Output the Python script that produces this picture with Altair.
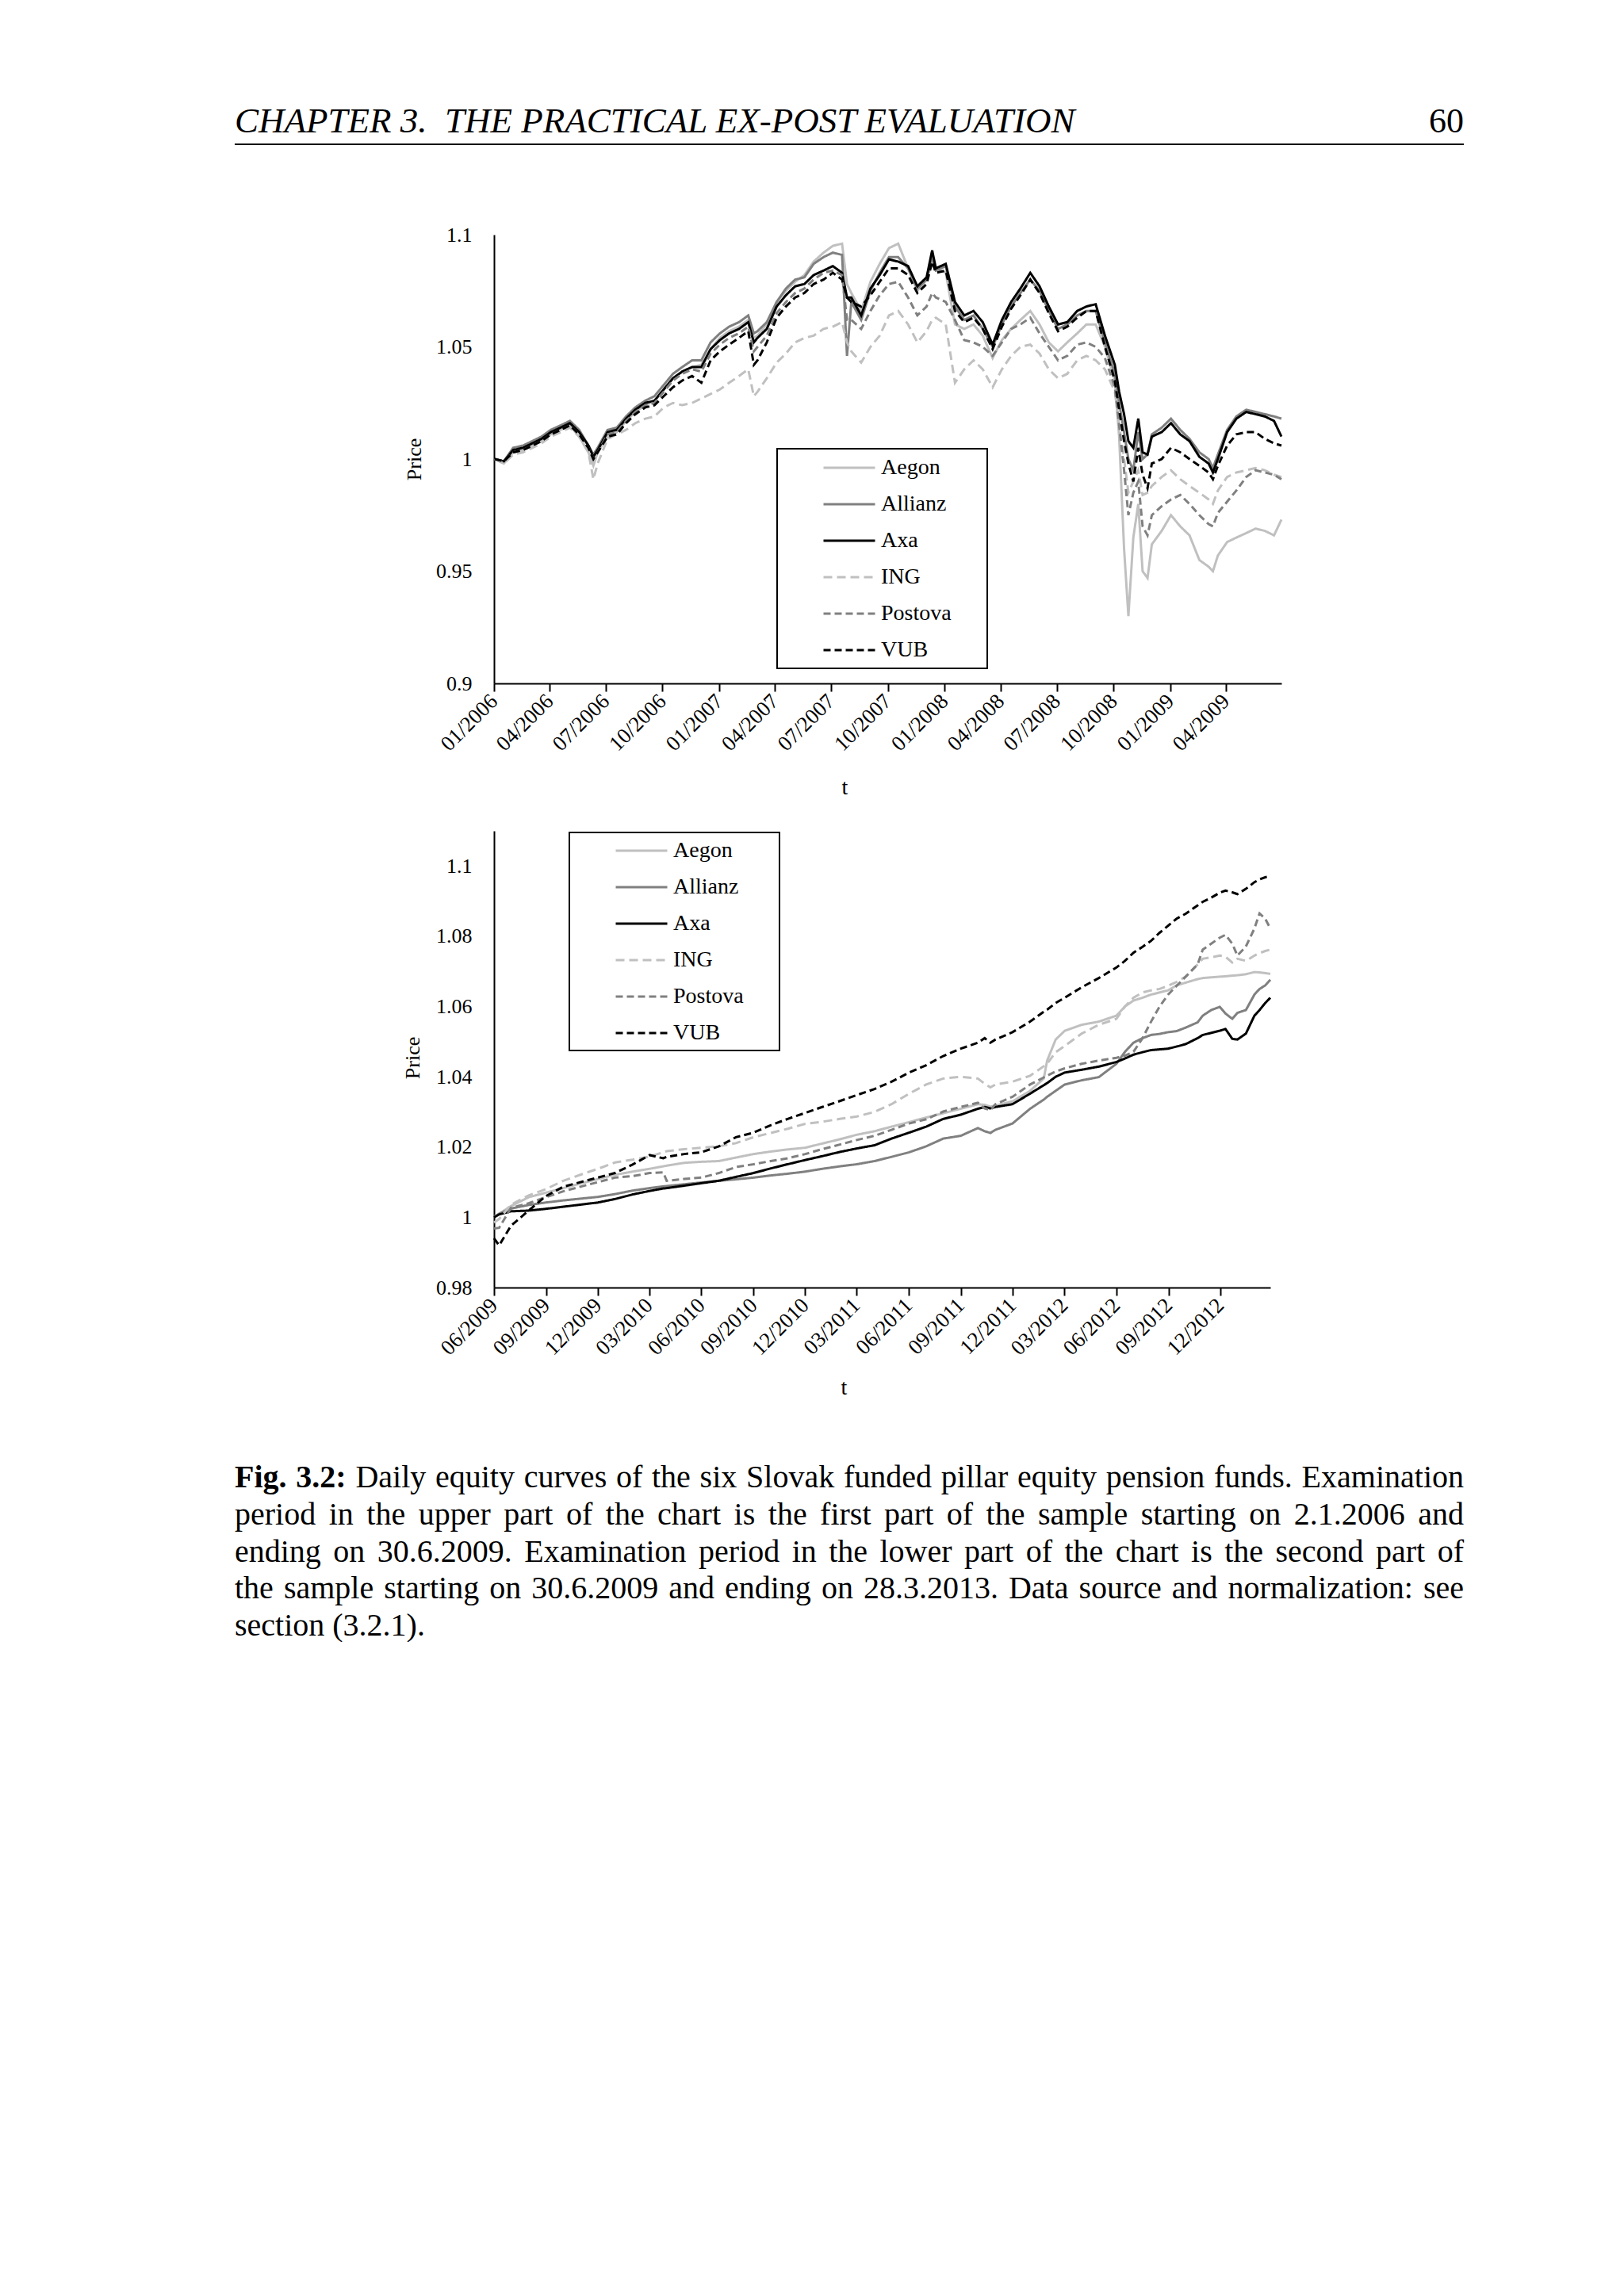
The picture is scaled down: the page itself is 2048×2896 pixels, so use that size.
import datetime as dt
import altair as alt
import pandas as pd

FONT = "Liberation Serif"
FUNDS = ["Aegon", "Allianz", "Axa", "ING", "Postova", "VUB"]
COLORS = ["#c0c0c0", "#808080", "#000000", "#c0c0c0", "#808080", "#000000"]
DASHES = [[1, 0], [1, 0], [1, 0], [11, 6], [9, 5], [9, 5]]

# ---------------- upper chart: months since 2.1.2006 ----------------
TOP_MONTHS = [0, 0.5, 1, 1.5, 2, 2.5, 3, 3.5, 4, 4.5,
              5, 5.25, 5.5, 6, 6.5, 7, 7.5, 8, 8.5, 9,
              9.5, 10, 10.5, 11, 11.5, 12, 12.5, 13, 13.5, 13.8,
              14, 14.5, 15, 15.5, 16, 16.5, 17, 17.5, 18, 18.5,
              18.75, 19, 19.5, 20, 20.5, 21, 21.5, 22, 22.5, 23,
              23.3, 23.5, 24, 24.5, 25, 25.5, 26, 26.5, 27, 27.5,
              28, 28.5, 29, 29.5, 30, 30.5, 31, 31.5, 32, 32.5,
              33, 33.25, 33.5, 33.75, 34, 34.25, 34.5, 34.75, 35, 35.5,
              36, 36.5, 37, 37.5, 38, 38.25, 38.5, 39, 39.5, 40,
              40.5, 41, 41.5, 41.88]

TOP_AEGON = [1.000, 0.998, 1.003, 1.004, 1.006, 1.008, 1.011, 1.013, 1.015, 1.010,
             1.003, 0.997, 1.003, 1.010, 1.012, 1.017, 1.021, 1.024, 1.026, 1.031,
             1.036, 1.039, 1.041, 1.042, 1.049, 1.054, 1.057, 1.059, 1.062, 1.054,
             1.055, 1.060, 1.070, 1.075, 1.079, 1.082, 1.088, 1.092, 1.095, 1.096,
             1.078, 1.074, 1.066, 1.079, 1.087, 1.094, 1.096, 1.085, 1.075, 1.080,
             1.088, 1.085, 1.083, 1.060, 1.058, 1.060, 1.055, 1.045, 1.053, 1.058,
             1.062, 1.066, 1.060, 1.052, 1.048, 1.052, 1.056, 1.060, 1.060, 1.050,
             1.035, 1.010, 0.960, 0.930, 0.965, 0.980, 0.950, 0.947, 0.962, 0.968,
             0.975, 0.970, 0.966, 0.955, 0.952, 0.950, 0.957, 0.963, 0.965, 0.967,
             0.969, 0.968, 0.966, 0.973]
TOP_ALLIANZ = [1.000, 0.999, 1.005, 1.006, 1.008, 1.010, 1.013, 1.015, 1.017, 1.013,
               1.006, 1.002, 1.005, 1.013, 1.014, 1.019, 1.023, 1.026, 1.028, 1.033,
               1.038, 1.041, 1.044, 1.044, 1.052, 1.056, 1.059, 1.061, 1.064, 1.056,
               1.057, 1.061, 1.070, 1.076, 1.080, 1.081, 1.087, 1.090, 1.092, 1.091,
               1.046, 1.070, 1.062, 1.075, 1.083, 1.090, 1.090, 1.085, 1.076, 1.080,
               1.090, 1.084, 1.086, 1.068, 1.062, 1.064, 1.058, 1.050, 1.060, 1.068,
               1.074, 1.080, 1.075, 1.066, 1.058, 1.060, 1.064, 1.066, 1.066, 1.052,
               1.038, 1.025, 1.012, 1.000, 0.995, 1.012, 1.000, 1.002, 1.011, 1.014,
               1.018, 1.013, 1.009, 1.003, 1.000, 0.996, 1.002, 1.013, 1.019, 1.022,
               1.021, 1.020, 1.019, 1.018]
TOP_AXA = [1.000, 0.999, 1.004, 1.005, 1.007, 1.009, 1.012, 1.014, 1.016, 1.012,
           1.006, 1.001, 1.004, 1.012, 1.013, 1.018, 1.022, 1.025, 1.026, 1.031,
           1.036, 1.039, 1.041, 1.041, 1.049, 1.053, 1.056, 1.058, 1.061, 1.052,
           1.054, 1.058, 1.068, 1.073, 1.077, 1.078, 1.082, 1.084, 1.086, 1.083,
           1.072, 1.072, 1.064, 1.076, 1.082, 1.089, 1.088, 1.086, 1.077, 1.081,
           1.093, 1.085, 1.087, 1.070, 1.064, 1.066, 1.061, 1.051, 1.062, 1.070,
           1.076, 1.083, 1.077, 1.068, 1.060, 1.061, 1.066, 1.068, 1.069, 1.055,
           1.042, 1.030, 1.020, 1.008, 1.005, 1.018, 1.003, 1.002, 1.010, 1.012,
           1.016, 1.011, 1.008, 1.001, 0.998, 0.994, 1.000, 1.012, 1.018, 1.021,
           1.020, 1.019, 1.017, 1.010]
TOP_ING = [1.000, 0.998, 1.002, 1.003, 1.005, 1.007, 1.010, 1.012, 1.014, 1.010,
           1.003, 0.991, 0.998, 1.009, 1.011, 1.013, 1.016, 1.018, 1.019, 1.023,
           1.025, 1.024, 1.025, 1.027, 1.029, 1.031, 1.034, 1.037, 1.040, 1.028,
           1.030, 1.036, 1.043, 1.047, 1.052, 1.054, 1.055, 1.058, 1.059, 1.061,
           1.052, 1.048, 1.043, 1.050, 1.055, 1.064, 1.066, 1.060, 1.052, 1.057,
           1.062, 1.063, 1.060, 1.034, 1.040, 1.044, 1.040, 1.032, 1.040, 1.046,
           1.050, 1.051, 1.047, 1.040, 1.036, 1.038, 1.044, 1.046, 1.044, 1.040,
           1.030, 1.015, 1.000, 0.985, 0.990, 0.995, 0.984, 0.985, 0.988, 0.992,
           0.995, 0.991, 0.988, 0.985, 0.982, 0.980, 0.986, 0.992, 0.994, 0.995,
           0.996, 0.995, 0.993, 0.992]
TOP_POSTOVA = [1.000, 0.999, 1.003, 1.004, 1.006, 1.008, 1.011, 1.013, 1.015, 1.011,
               1.005, 1.000, 1.003, 1.011, 1.012, 1.017, 1.021, 1.024, 1.025, 1.030,
               1.035, 1.038, 1.040, 1.039, 1.047, 1.051, 1.054, 1.056, 1.059, 1.048,
               1.050, 1.055, 1.065, 1.070, 1.074, 1.076, 1.080, 1.083, 1.084, 1.082,
               1.062, 1.062, 1.058, 1.066, 1.073, 1.078, 1.079, 1.072, 1.064, 1.068,
               1.074, 1.072, 1.070, 1.062, 1.053, 1.052, 1.050, 1.046, 1.052, 1.058,
               1.060, 1.063, 1.056, 1.050, 1.044, 1.046, 1.051, 1.052, 1.050, 1.045,
               1.032, 1.015, 0.995, 0.975, 0.985, 0.990, 0.970, 0.966, 0.975, 0.979,
               0.982, 0.984, 0.980, 0.975, 0.971, 0.970, 0.976, 0.981, 0.986, 0.992,
               0.995, 0.994, 0.993, 0.991]
TOP_VUB = [1.000, 0.999, 1.003, 1.004, 1.006, 1.008, 1.011, 1.013, 1.015, 1.011,
           1.005, 1.000, 1.003, 1.010, 1.011, 1.016, 1.020, 1.023, 1.024, 1.028,
           1.032, 1.035, 1.037, 1.034, 1.044, 1.048, 1.051, 1.054, 1.057, 1.042,
           1.044, 1.052, 1.063, 1.068, 1.072, 1.074, 1.078, 1.080, 1.083, 1.080,
           1.072, 1.070, 1.068, 1.073, 1.079, 1.085, 1.085, 1.082, 1.074, 1.078,
           1.088, 1.083, 1.084, 1.066, 1.061, 1.063, 1.058, 1.049, 1.059, 1.067,
           1.073, 1.080, 1.074, 1.065, 1.057, 1.059, 1.063, 1.066, 1.066, 1.050,
           1.035, 1.022, 1.008, 0.998, 0.990, 1.005, 0.993, 0.987, 0.998, 1.000,
           1.005, 1.003, 1.000, 0.997, 0.994, 0.991, 0.997, 1.006, 1.011, 1.012,
           1.012, 1.009, 1.007, 1.006]

# ---------------- lower chart: months since 30.6.2009 ----------------
BOT_MONTHS = [0, 0.3, 1, 2, 3, 4, 5, 6, 7, 8,
              9, 9.8, 10, 11, 12, 13, 14, 15, 16, 17,
              18, 19, 20, 21, 22, 23, 24, 25, 26, 27,
              28, 28.4, 28.7, 29, 30, 31, 31.8, 32, 32.5, 33,
              34, 35, 36, 36.5, 37, 37.5, 38, 38.5, 39, 39.5,
              40, 40.7, 41, 41.5, 42, 42.3, 42.7, 43, 43.5, 44,
              44.3, 44.6, 44.91]

BOT_AEGON = [1.0002, 1.001, 1.0032, 1.0057, 1.007, 1.0083, 1.0096, 1.0109, 1.0121, 1.013,
             1.0138, 1.0145, 1.0147, 1.0155, 1.0158, 1.016, 1.017, 1.018, 1.0187, 1.0193,
             1.0198, 1.021, 1.0222, 1.0235, 1.0245, 1.0258, 1.0271, 1.0284, 1.0296, 1.0309,
             1.0322, 1.032, 1.0315, 1.0318, 1.033, 1.036, 1.0395, 1.0446, 1.0506, 1.0531,
             1.0548, 1.0557, 1.0574, 1.060, 1.0617, 1.0625, 1.0634, 1.064, 1.0646, 1.066,
             1.0668, 1.0678, 1.0681, 1.0683, 1.0685, 1.0686, 1.0688, 1.0689, 1.0692, 1.0698,
             1.0697, 1.0695, 1.0693]
BOT_ALLIANZ = [1.0000, 1.001, 1.0025, 1.0035, 1.0042, 1.0048, 1.0053, 1.0058, 1.0066, 1.0076,
               1.0083, 1.0088, 1.0089, 1.0094, 1.0099, 1.0104, 1.0108, 1.0113, 1.0119, 1.0124,
               1.0130, 1.0138, 1.0145, 1.0151, 1.016, 1.0172, 1.0185, 1.0202, 1.0224, 1.0232,
               1.0254, 1.0245, 1.024, 1.0249, 1.0267, 1.0309, 1.0335, 1.0343, 1.036, 1.0378,
               1.039, 1.0399, 1.0437, 1.0471, 1.0497, 1.051, 1.0519, 1.0522, 1.0527, 1.053,
               1.054, 1.0555, 1.0574, 1.059, 1.0599, 1.058, 1.0565, 1.0582, 1.059, 1.0634,
               1.065, 1.066, 1.0676]
BOT_AXA = [1.0000, 1.0008, 1.0017, 1.0019, 1.0024, 1.0030, 1.0036, 1.0042, 1.0052, 1.0065,
           1.0075, 1.0082, 1.0083, 1.0090, 1.0097, 1.0104, 1.0115, 1.0126, 1.0139, 1.0151,
           1.0163, 1.0174, 1.0186, 1.0196, 1.0205, 1.0224, 1.0241, 1.0258, 1.028, 1.0292,
           1.0309, 1.0314, 1.031, 1.0314, 1.0322, 1.0352, 1.0376, 1.0382, 1.040, 1.0412,
           1.042, 1.0429, 1.0442, 1.0452, 1.0463, 1.047, 1.0476, 1.0478, 1.048, 1.0486,
           1.0493, 1.051, 1.0519, 1.0525, 1.0531, 1.0536, 1.0508, 1.0506, 1.0523, 1.0574,
           1.059, 1.061, 1.0625]
BOT_ING = [0.9985, 0.9995, 1.0036, 1.0062, 1.008, 1.0104, 1.0121, 1.0138, 1.0156, 1.0164,
           1.0173, 1.0185, 1.0188, 1.0194, 1.0198, 1.0202, 1.0211, 1.0228, 1.024, 1.0252,
           1.0266, 1.0272, 1.028, 1.0287, 1.030, 1.0322, 1.0352, 1.0378, 1.0395, 1.040,
           1.0395, 1.038, 1.037, 1.0378, 1.0386, 1.0403, 1.043, 1.0437, 1.047, 1.0488,
           1.0523, 1.0548, 1.0565, 1.060, 1.0625, 1.064, 1.0646, 1.065, 1.0659, 1.067,
           1.0685, 1.072, 1.0736, 1.074, 1.0745, 1.0742, 1.0725, 1.0736, 1.073, 1.0745,
           1.0752, 1.0758, 1.0762]
BOT_POSTOVA = [0.9968, 0.997, 1.0027, 1.004, 1.0057, 1.0074, 1.0087, 1.010, 1.0113, 1.0117,
               1.0126, 1.0128, 1.0104, 1.0109, 1.0113, 1.0126, 1.0143, 1.0151, 1.016, 1.0168,
               1.018, 1.0194, 1.0207, 1.022, 1.0232, 1.0249, 1.0267, 1.0279, 1.0301, 1.0314,
               1.0326, 1.031, 1.0305, 1.0322, 1.0343, 1.0378, 1.0398, 1.0403, 1.0415, 1.0424,
               1.0437, 1.0446, 1.0454, 1.046, 1.0471, 1.051, 1.0557, 1.060, 1.0634, 1.0659,
               1.0685, 1.072, 1.0762, 1.0779, 1.0796, 1.0804, 1.0779, 1.0745, 1.0771, 1.0822,
               1.0865, 1.085, 1.0822]
BOT_VUB = [0.994, 0.992, 0.9976, 1.0019, 1.006, 1.0087, 1.010, 1.0113, 1.0126, 1.015,
           1.0177, 1.0168, 1.0172, 1.018, 1.0185, 1.0202, 1.0228, 1.0241, 1.0262, 1.028,
           1.0297, 1.0314, 1.0331, 1.0348, 1.0365, 1.0386, 1.0412, 1.0433, 1.0459, 1.048,
           1.0497, 1.051, 1.0497, 1.0506, 1.0527, 1.0557, 1.0585, 1.0591, 1.061, 1.0625,
           1.0655, 1.0681, 1.0711, 1.073, 1.0753, 1.077, 1.0787, 1.081, 1.083, 1.085,
           1.0864, 1.0888, 1.0898, 1.091, 1.0924, 1.093, 1.0925, 1.092, 1.0935, 1.0954,
           1.0962, 1.0968, 1.0971]

TOP_TICKS = ["2006-01-01", "2006-04-01", "2006-07-01", "2006-10-01", "2007-01-01",
             "2007-04-01", "2007-07-01", "2007-10-01", "2008-01-01", "2008-04-01",
             "2008-07-01", "2008-10-01", "2009-01-01", "2009-04-01"]
BOT_TICKS = ["2009-06-30", "2009-09-30", "2009-12-30", "2010-03-30", "2010-06-30",
             "2010-09-30", "2010-12-30", "2011-03-30", "2011-06-30", "2011-09-30",
             "2011-12-30", "2012-03-30", "2012-06-30", "2012-09-30", "2012-12-30"]
TOP_DOMAIN = ["2006-01-01", "2009-06-30"]
BOT_DOMAIN = ["2009-06-30", "2013-03-28"]
TOP_Y = [0.9, 0.95, 1.0, 1.05, 1.1]
BOT_Y = [0.98, 1.0, 1.02, 1.04, 1.06, 1.08, 1.1]

HEADER = "CHAPTER 3.\u00a0 THE PRACTICAL EX-POST EVALUATION"
PAGE_NO = "60"
CAPTION_BOLD = "Fig. 3.2:"
CAPTION = [
    "Daily equity curves of the six Slovak funded pillar equity pension funds. Examination",
    "period in the upper part of the chart is the first part of the sample starting on 2.1.2006 and",
    "ending on 30.6.2009. Examination period in the lower part of the chart is the second part of",
    "the sample starting on 30.6.2009 and ending on 28.3.2013. Data source and normalization: see",
    "section (3.2.1).",
]

# Times / Liberation Serif advance widths (per 1000 em), used to justify the caption
_TW = dict(zip("abcdefghijklmnopqrstuvwxyz",
               [444, 500, 444, 500, 444, 333, 500, 500, 278, 278, 500, 278, 778,
                500, 500, 500, 500, 333, 389, 278, 500, 500, 722, 500, 500, 444]))
_TW.update(dict(zip("ABCDEFGHIJKLMNOPQRSTUVWXYZ",
                    [722, 667, 667, 722, 611, 556, 722, 722, 333, 389, 722, 611, 889,
                     722, 722, 556, 722, 667, 556, 611, 722, 722, 944, 722, 722, 611])))
_TW.update({c: 500 for c in "0123456789"})
_TW.update({".": 250, ",": 250, ":": 278, ";": 278, "(": 333, ")": 333, "-": 333, " ": 250})
_TBW = dict(_TW)
_TBW.update({"F": 611, "g": 500, "i": 278, ":": 333, ".": 250})


def text_width(s, size, bold=False):
    table = _TBW if bold else _TW
    return sum(table.get(c, 500) for c in s) * size / 1000.0


def ms(s):
    d = dt.datetime.fromisoformat(s).replace(tzinfo=dt.timezone.utc)
    return int(d.timestamp() * 1000)


def long_frame(months, series, base):
    rows = []
    b = dt.date.fromisoformat(base)
    for fund, vals in zip(FUNDS, series):
        assert len(vals) == len(months), (fund, len(vals), len(months))
        for m, v in zip(months, vals):
            d = b + dt.timedelta(days=round(m * 30.44))
            rows.append({"date": d.isoformat(), "fund": fund, "value": v})
    return pd.DataFrame(rows)


top_df = long_frame(TOP_MONTHS, [TOP_AEGON, TOP_ALLIANZ, TOP_AXA, TOP_ING, TOP_POSTOVA, TOP_VUB], "2006-01-02")
bot_df = long_frame(BOT_MONTHS, [BOT_AEGON, BOT_ALLIANZ, BOT_AXA, BOT_ING, BOT_POSTOVA, BOT_VUB], "2009-06-30")

ONE = pd.DataFrame({"k": [0]})


def text_at(txt, x, y, size, align="left", **kw):
    return alt.Chart(ONE).mark_text(text=txt, align=align, baseline="alphabetic",
                                    fontSize=size, font=FONT, color="black", **kw
                                    ).encode(x=alt.value(x), y=alt.value(y))


def hrule(x1, x2, y, color="black", width=2):
    return alt.Chart(ONE).mark_rule(color=color, strokeWidth=width).encode(
        x=alt.value(x1), x2=alt.value(x2), y=alt.value(y))


def box(x1, x2, y1, y2):
    return alt.Chart(ONE).mark_rect(fill="white", stroke="black", strokeWidth=2).encode(
        x=alt.value(x1), x2=alt.value(x2), y=alt.value(y1), y2=alt.value(y2))


def lines(df, xdomain, xticks, ydomain, yticks, legend_x, legend_y, title_xy, price_xy):
    leg = alt.Legend(orient="none", legendX=legend_x, legendY=legend_y, title=None,
                     symbolType="stroke", symbolSize=4225, symbolStrokeWidth=3,
                     clipHeight=28, rowPadding=18, labelOffset=6, symbolOffset=0,
                     padding=0, labelFont=FONT, labelFontSize=28, labelColor="black")
    return alt.Chart(df).mark_line(strokeWidth=3).encode(
        x=alt.X("date:T",
                scale=alt.Scale(type="utc", domain=[ms(d) for d in xdomain]),
                axis=alt.Axis(values=[ms(d) for d in xticks], format="%m/%Y",
                              labelAngle=-45, labelAlign="right", labelBaseline="middle",
                              labelFontSize=27, labelPadding=8, tickSize=10,
                              labelOverlap=False, labelFlush=False, labelBound=False,
                              title="t", titleFontSize=28, titleX=title_xy[0], titleY=title_xy[1],
                              titleAlign="center", titleBaseline="alphabetic")),
        y=alt.Y("value:Q",
                scale=alt.Scale(domain=ydomain, zero=False, nice=False),
                axis=alt.Axis(values=yticks, labelExpr="format(datum.value, '.2~f')",
                              ticks=False, labelFontSize=26, labelPadding=28,
                              title="Price", titleFontSize=26, titleX=price_xy[0],
                              titleY=price_xy[1], titleAlign="center", titleBaseline="middle",
                              titleAngle=270)),
        color=alt.Color("fund:N", scale=alt.Scale(domain=FUNDS, range=COLORS), legend=leg),
        strokeDash=alt.StrokeDash("fund:N", scale=alt.Scale(domain=FUNDS, range=DASHES), legend=leg),
    )


def justified_caption(x0, width, baselines, size):
    """Lay the caption out word by word so that full lines are justified."""
    layers = []
    lines_words = []
    first = [(w, True) for w in CAPTION_BOLD.split(" ")] + [(w, False) for w in CAPTION[0].split(" ")]
    lines_words.append(first)
    for ln in CAPTION[1:]:
        lines_words.append([(w, False) for w in ln.split(" ")])
    for i, (words, yy) in enumerate(zip(lines_words, baselines)):
        widths = [text_width(w, size, b) for w, b in words]
        last = i == len(lines_words) - 1
        if last or len(words) < 2:
            gap = 0.25 * size
        else:
            gap = (width - sum(widths)) / (len(words) - 1)
        x = x0
        for (w, b), wd in zip(words, widths):
            kw = {"fontWeight": "bold"} if b else {}
            layers.append(text_at(w, round(x, 1), yy, size, **kw))
            x += wd + gap
    return layers


# upper panel: origin of plot area at page (622, 295)
top = alt.layer(
    hrule(-614, 1223, -287, color="white", width=1),
    hrule(-614, 1223, 725, color="white", width=1),
    text_at(HEADER, -327, -129, 45, fontStyle="italic"),
    text_at(PAGE_NO, 1223, -129, 44, align="right"),
    hrule(-327, 1223, -114, width=2),
    lines(top_df, TOP_DOMAIN, TOP_TICKS, [0.9, 1.1], TOP_Y, 414, 280, (442, 139), (-101, 283)),
    box(357, 622, 270, 547),
).properties(width=993, height=566)

# lower panel: origin of plot area at page (622, 1045)
caption_layers = justified_caption(-327, 1550, [828, 875, 922, 968, 1015], 40)

bottom = alt.layer(
    hrule(-614, 1223, -25, color="white", width=1),
    lines(bot_df, BOT_DOMAIN, BOT_TICKS, [0.98, 1.11], BOT_Y, 152, 11, (441, 134), (-103, 286)),
    box(95, 360, 2, 277),
    *caption_layers,
).properties(width=979, height=576)

chart = alt.vconcat(top, bottom, spacing=0).resolve_scale(
    x="independent", y="independent", color="independent", strokeDash="independent"
).resolve_legend(color="independent", strokeDash="independent").properties(
    padding=0
).configure_view(stroke=None).configure_axis(
    domainColor="black", domainWidth=2, tickColor="black", tickWidth=2,
    labelColor="black", titleColor="black", grid=False,
    labelFont=FONT, titleFont=FONT, titleFontWeight="normal"
)

chart.save("out.html", embed_options={"renderer": "svg", "actions": False})
